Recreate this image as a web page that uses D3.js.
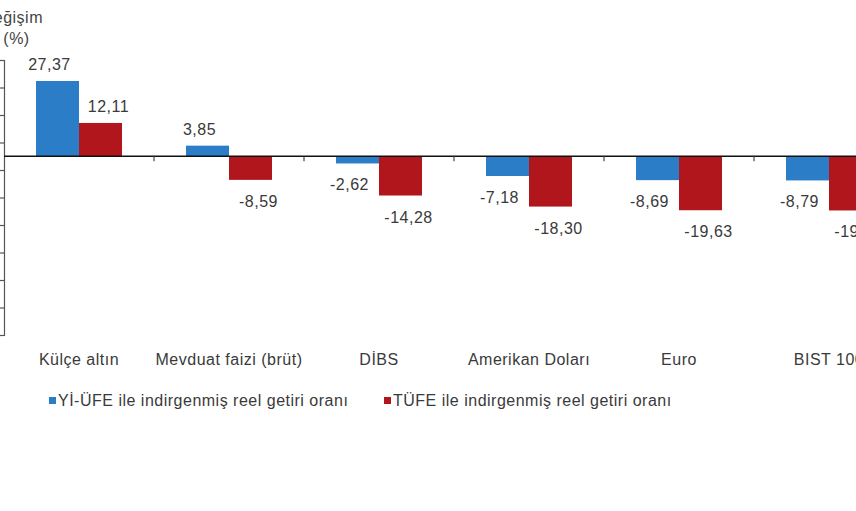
<!DOCTYPE html>
<html>
<head>
<meta charset="utf-8">
<script src="https://cdn.jsdelivr.net/npm/d3@7"></script>
<style>
    body { margin: 0; background: #fff; }
    text { font-family: "Liberation Sans", Arial, sans-serif; fill: #3a3a3a; letter-spacing: 0.5px; }
</style>
</head>
<body>
<svg id="chart"></svg>
<script>
// chart data
const categories = ["Külçe altın", "Mevduat faizi (brüt)", "DİBS", "Amerikan Doları", "Euro", "BIST 100"];
const series = ["Yİ-ÜFE ile indirgenmiş reel getiri oranı", "TÜFE ile indirgenmiş reel getiri oranı"];
const ufeValues = [27.37, 3.85, -2.62, -7.18, -8.69, -8.79];
const tufeValues = [12.11, -8.59, -14.28, -18.30, -19.63, -19.71];
const yTicks = [35, 25, 15, 5, -5, -15, -25, -35, -45, -55, -65];
const colors = ["#2b7dc8", "#b0161b"];

const width = 856, height = 511;
const svg = d3.select("#chart").attr("width", width).attr("height", height);

// the plot runs past the right edge of the picture (6 categories of 150px)
const x = d3.scaleBand().domain(categories).range([4, 904]).paddingInner(0).paddingOuter(0);
const x1 = d3.scaleBand().domain(series).range([0, x.bandwidth()]).paddingInner(0).paddingOuter(0.744);
const y = d3.scaleLinear().domain([-65, 35]).range([335, 60]);

// turkish style number: comma decimal, plain hyphen for minus
const fmt = v => d3.format(".2f")(v).replace(".", ",").replace("\u2212", "-");

// y axis (ticks only, no labels)
const yAxis = d3.axisLeft(y).tickValues(yTicks).tickSize(4).tickFormat("");
svg.append("g")
    .attr("transform", "translate(4,0)")
    .call(yAxis)
    .call(g => g.selectAll("path, line").attr("stroke", "#555").attr("stroke-width", 1.2));

// axis title (partly cut off at left edge)
svg.append("text").attr("x", 43).attr("y", 23).attr("text-anchor", "end")
    .style("font-size", "16px").style("fill", "#444").text("Değişim");
svg.append("text").attr("x", 16.5).attr("y", 44).attr("text-anchor", "middle")
    .style("font-size", "16px").style("fill", "#444").text("(%)");

// bars
const rows = categories.map((c, i) => ({ cat: c, vals: [ufeValues[i], tufeValues[i]] }));

const groups = svg.selectAll(".cat")
    .data(rows)
    .join("g")
    .attr("class", "cat")
    .attr("transform", d => `translate(${x(d.cat)},0)`);

groups.selectAll("rect")
    .data(d => d.vals.map((v, j) => ({ s: series[j], v: v, j: j })))
    .join("rect")
    .attr("x", d => x1(d.s))
    .attr("width", x1.bandwidth())
    .attr("y", d => y(Math.max(0, d.v)))
    .attr("height", d => Math.abs(y(d.v) - y(0)))
    .attr("fill", d => colors[d.j]);

// value labels, pushed outwards a little like the original
groups.selectAll(".val")
    .data(d => d.vals.map((v, j) => ({ s: series[j], v: v, j: j })))
    .join("text")
    .attr("class", "val")
    .attr("x", d => x1(d.s) + x1.bandwidth() / 2 + (d.j === 0 ? -8 : 8))
    .attr("y", d => d.v >= 0 ? y(d.v) - 11 : y(d.v) + 27)
    .attr("text-anchor", "middle")
    .style("font-size", "16px")
    .text(d => fmt(d.v));

// zero line
svg.append("line")
    .attr("x1", 4).attr("x2", width)
    .attr("y1", y(0)).attr("y2", y(0))
    .attr("stroke", "#111").attr("stroke-width", 1.4);

// category separator ticks on the zero line
svg.selectAll(".sep")
    .data(categories.slice(1))
    .join("line")
    .attr("class", "sep")
    .attr("x1", d => x(d)).attr("x2", d => x(d))
    .attr("y1", y(0)).attr("y2", y(0) + 5)
    .attr("stroke", "#444").attr("stroke-width", 1.2);

// category labels
svg.selectAll(".cat-label")
    .data(categories)
    .join("text")
    .attr("class", "cat-label")
    .attr("x", d => x(d) + x.bandwidth() / 2)
    .attr("y", 365)
    .attr("text-anchor", "middle")
    .style("font-size", "16px")
    .text(d => d);

// legend
const legendX = [49, 384];
const legend = svg.selectAll(".legend")
    .data(series)
    .join("g")
    .attr("class", "legend")
    .attr("transform", (d, i) => `translate(${legendX[i]},397)`);

legend.append("rect")
    .attr("width", 7).attr("height", 7)
    .attr("fill", (d, i) => colors[i]);

legend.append("text")
    .attr("x", 9).attr("y", 8.5)
    .style("font-size", "16px")
    .text(d => d);
</script>
</body>
</html>
